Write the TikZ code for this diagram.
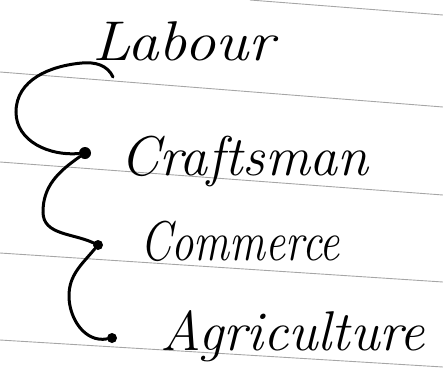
\documentclass[tikz,border=0pt]{standalone}
\usepackage{tikz}
\usetikzlibrary{positioning}

\tikzset{
  rule/.style={gray!70, line width=0.9pt},
  dot/.style={circle, fill=black, inner sep=0pt, minimum size=10pt},
  word/.style={anchor=base west, inner sep=0pt, font=\fontsize{56}{60}\selectfont\itshape},
  link/.style={line width=3pt, line cap=round}
}

\begin{document}
\begin{tikzpicture}[x=1pt, y=-1pt]
    \useasboundingbox (0,0) rectangle (443,383);
    % ruled paper
    \draw[rule] (250,0) -- (443,15);
    \draw[rule] (0,72) -- (443,107);
    \draw[rule] (0,162) -- (443,195);
    \draw[rule] (0,253) -- (443,282);
    \draw[rule] (0,340) -- (443,367);
    % words
    \node[word, xscale=1.12, transform shape] (labour) at (92,60) {Labour};
    \node[word] (craftsman) at (120,175) {Craftsman};
    \node[word, xscale=0.8, transform shape] (commerce) at (140,260) {Commerce};
    \node[word] (agriculture) at (160,350) {Agriculture};
    % dots
    \coordinate (hook) at (113,77);
    \node[dot, minimum size=12pt] (c) at (85,153) {};
    \node[dot] (m) at (98,245) {};
    \node[dot] (a) at (112,338) {};
    \draw[link] (hook) to[out=115,in=5] (82,63) to[out=185,in=90] (16,112) to[out=270,in=185] (c);
    \draw[link] (c) to[out=215,in=90] (43,212) to[out=270,in=155] (m);
    \draw[link] (m) to[out=230,in=90] (69,296) to[out=270,in=190] (a);
  \end{tikzpicture}
\end{document}
